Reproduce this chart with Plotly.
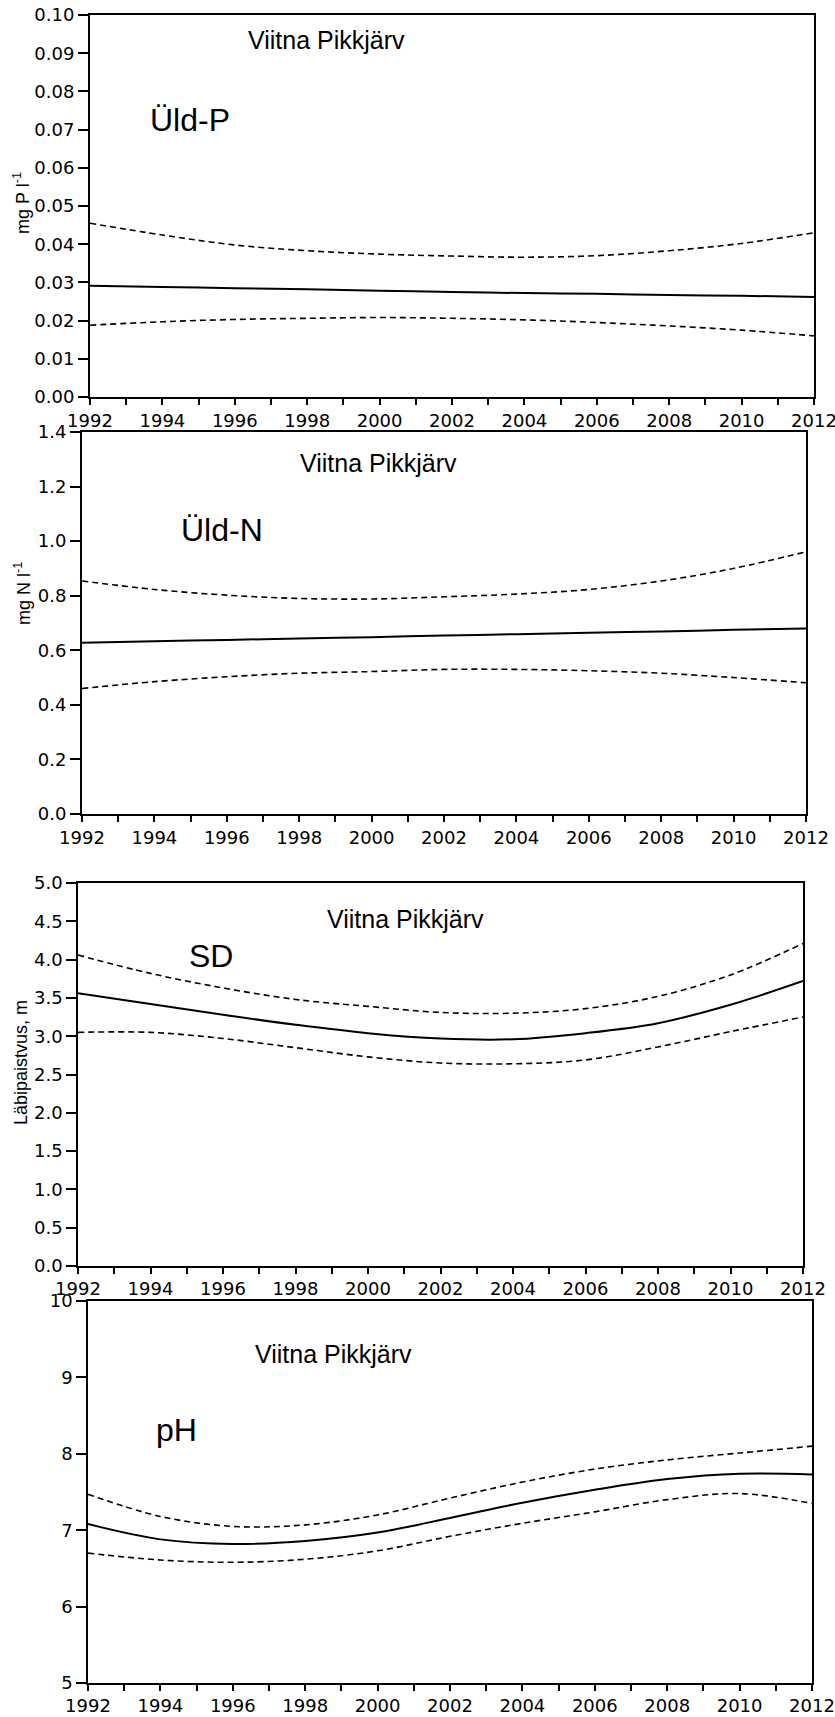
import plotly.graph_objects as go

# ---------------- data ----------------
years = [1992, 1994, 1996, 1998, 2000, 2002, 2004, 2006, 2008, 2010, 2012]

p_trend = [0.0291, 0.0288, 0.0285, 0.0282, 0.0278, 0.0275, 0.0272, 0.0270, 0.0267, 0.0265, 0.0262]
p_upper = [0.0455, 0.0424, 0.0398, 0.0383, 0.0374, 0.0369, 0.0366, 0.0370, 0.0383, 0.0402, 0.0430]
p_lower = [0.0188, 0.0197, 0.0203, 0.0206, 0.0208, 0.0206, 0.0202, 0.0195, 0.0186, 0.0175, 0.0160]

n_trend = [0.628, 0.633, 0.638, 0.643, 0.648, 0.654, 0.659, 0.664, 0.669, 0.675, 0.680]
n_upper = [0.854, 0.823, 0.802, 0.790, 0.788, 0.796, 0.806, 0.823, 0.854, 0.900, 0.961]
n_lower = [0.460, 0.485, 0.503, 0.516, 0.522, 0.530, 0.530, 0.525, 0.516, 0.500, 0.481]

sd_trend = [3.56, 3.42, 3.28, 3.15, 3.04, 2.97, 2.96, 3.04, 3.17, 3.41, 3.72]
sd_upper = [4.06, 3.82, 3.63, 3.48, 3.39, 3.31, 3.30, 3.36, 3.52, 3.80, 4.21]
sd_lower = [3.05, 3.05, 2.97, 2.85, 2.73, 2.65, 2.64, 2.69, 2.86, 3.06, 3.25]

ph_trend = [7.08, 6.88, 6.82, 6.86, 6.97, 7.16, 7.36, 7.53, 7.67, 7.74, 7.73]
ph_upper = [7.47, 7.18, 7.05, 7.07, 7.20, 7.42, 7.63, 7.80, 7.92, 8.01, 8.10]
ph_lower = [6.70, 6.61, 6.58, 6.62, 6.73, 6.92, 7.09, 7.24, 7.40, 7.48, 7.35]

lake = "Viitna Pikkjärv"
params = ["Üld-P", "Üld-N", "SD", "pH"]
ytitles = ["mg P l<sup>-1</sup>", "mg N l<sup>-1</sup>", "Läbipaistvus, m", ""]
yranges = [[0, 0.10], [0, 1.4], [0, 5.0], [5, 10]]
ydticks = [0.01, 0.2, 0.5, 1]
yformats = [".2f", ".1f", ".1f", "d"]
x_range = [1992, 2012]

# ---------------- layout geometry (pixels) ----------------
W, H = 835, 1717
# (left, right, top, bottom) for each panel
boxes = [(90, 814, 15, 397), (82, 806, 432, 814), (78, 803, 883, 1266), (88, 812, 1301, 1683)]
linew = [2, 2, 1.6, 1.6]
lake_pos = [(326, 40), (378, 463), (405, 919), (333, 1354)]
param_pos = [(190, 120), (222, 530), (211, 956), (176, 1430)]
ytitle_pos = [(22, 203), (22, 594), (21, 1063)]

series = [
    (p_trend, p_upper, p_lower),
    (n_trend, n_upper, n_lower),
    (sd_trend, sd_upper, sd_lower),
    (ph_trend, ph_upper, ph_lower),
]

fig = go.Figure()
FONT = "DejaVu Sans, Verdana, sans-serif"
AFONT = "Liberation Sans, Arial, Helvetica, sans-serif"

def px_x(v):
    return v / W

def px_y(v):
    return 1 - v / H

annotations = []
for i, (trend, upper, lower) in enumerate(series):
    k = i + 1
    xa = "x" if k == 1 else f"x{k}"
    ya = "y" if k == 1 else f"y{k}"
    for vals, dash, w in ((upper, "6px,4px", 1.6), (lower, "6px,4px", 1.6), (trend, "solid", 2)):
        fig.add_trace(go.Scatter(
            x=years, y=vals, xaxis=xa, yaxis=ya, mode="lines",
            line=dict(color="black", width=w, dash=dash, shape="spline", smoothing=1.0),
            showlegend=False, hoverinfo="skip"))
    l, r, t, b = boxes[i]
    xkey = "xaxis" if k == 1 else f"xaxis{k}"
    ykey = "yaxis" if k == 1 else f"yaxis{k}"
    fig.layout[xkey] = dict(
        domain=[px_x(l), px_x(r)], anchor=ya, range=x_range, automargin=False,
        tickmode="linear", tick0=1992, dtick=2, ticklabeloverflow="allow",
        ticks="outside", ticklen=6, tickwidth=linew[i], tickcolor="black",
        minor=dict(dtick=1, ticks="outside", ticklen=6, tickwidth=linew[i], tickcolor="black", showgrid=False),
        showline=True, linecolor="black", linewidth=linew[i], mirror=True,
        showgrid=False, zeroline=False,
        tickfont=dict(family=FONT, size=18, color="black"),
    )
    fig.layout[ykey] = dict(
        domain=[px_y(b), px_y(t)], anchor=xa, range=yranges[i], automargin=False,
        tickmode="linear", tick0=yranges[i][0], dtick=ydticks[i], tickformat=yformats[i],
        ticklabeloverflow="allow",
        ticks="outside", ticklen=10, tickwidth=linew[i], tickcolor="black",
        showline=True, linecolor="black", linewidth=linew[i], mirror=True,
        showgrid=False, zeroline=False,
        tickfont=dict(family=FONT, size=18, color="black"),
    )
    annotations.append(dict(
        text=lake, xref="paper", yref="paper",
        x=px_x(lake_pos[i][0]), y=px_y(lake_pos[i][1]),
        xanchor="center", yanchor="middle", showarrow=False,
        font=dict(family=AFONT, size=25, color="black")))
    annotations.append(dict(
        text=params[i], xref="paper", yref="paper",
        x=px_x(param_pos[i][0]), y=px_y(param_pos[i][1]),
        xanchor="center", yanchor="middle", showarrow=False,
        font=dict(family=AFONT, size=32, color="black")))
    if ytitles[i]:
        annotations.append(dict(
            text=ytitles[i], xref="paper", yref="paper",
            x=px_x(ytitle_pos[i][0]), y=px_y(ytitle_pos[i][1]),
            xanchor="center", yanchor="middle", textangle=-90, showarrow=False,
            font=dict(family=AFONT, size=18, color="black")))

fig.update_layout(
    template="none",
    width=W, height=H,
    margin=dict(l=0, r=0, t=0, b=0, autoexpand=False),
    paper_bgcolor="white", plot_bgcolor="white",
    annotations=annotations,
    showlegend=False,
)

fig.write_html("out.html")
